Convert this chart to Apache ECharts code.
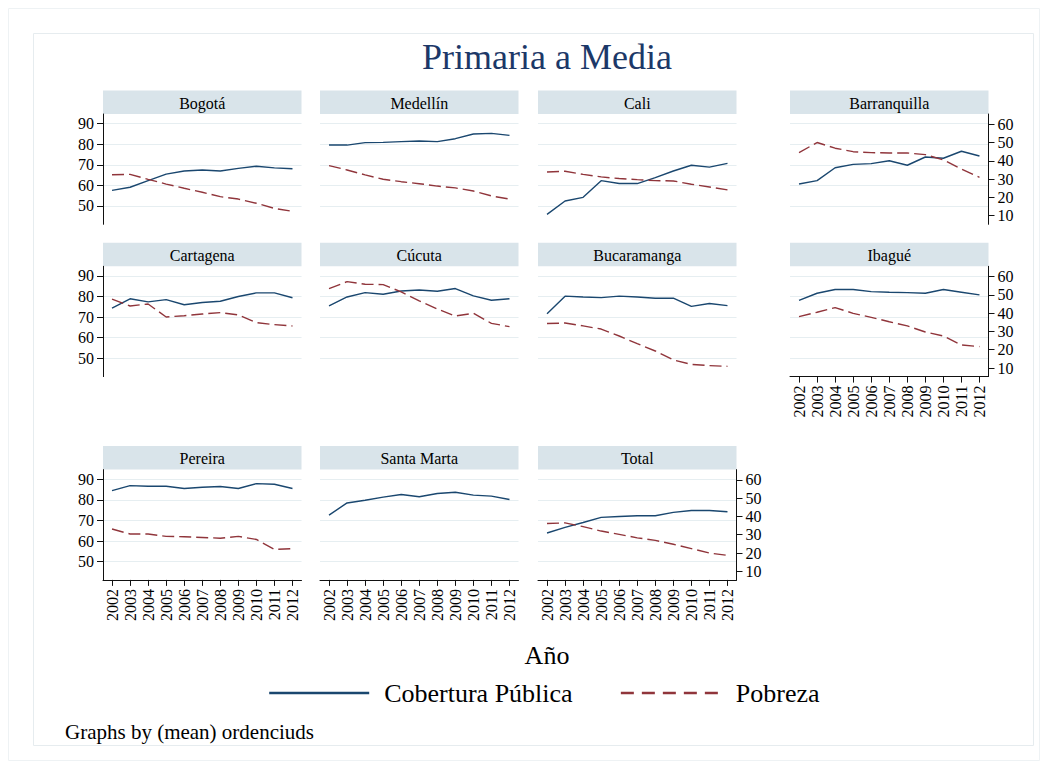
<!DOCTYPE html>
<html><head><meta charset="utf-8">
<script src="https://cdn.jsdelivr.net/npm/echarts@6/dist/echarts.min.js"></script>
<style>html,body{margin:0;padding:0;background:#fff}#c{width:1047px;height:767px}</style>
</head><body><div id="c"></div><script>
// ---- data ----
const years = ['2002','2003','2004','2005','2006','2007','2008','2009','2010','2011','2012'];
const cities = ['Bogotá','Medellín','Cali','Barranquilla','Cartagena','Cúcuta','Bucaramanga','Ibagué','Pereira','Santa Marta','Total'];
const leftTicks = [50,60,70,80,90];
const rightTicks = [10,20,30,40,50,60];

const coberturaBogota       = [57.6,59.1,62.3,65.5,67.0,67.5,67.0,68.3,69.3,68.5,68.1];
const pobrezaBogota         = [32.4,32.6,29.9,27.3,25.0,22.8,20.4,19.1,16.8,14.0,12.4];
const coberturaMedellin     = [79.6,79.6,80.8,80.9,81.3,81.6,81.3,82.7,85.0,85.3,84.3];
const pobrezaMedellin       = [37.4,35.0,32.3,29.9,28.6,27.5,26.2,25.2,23.5,20.8,19.1];
const coberturaCali         = [45.9,52.4,54.2,62.3,60.9,60.9,63.8,67.0,69.8,68.9,70.7];
const pobrezaCali           = [33.9,34.3,32.6,31.2,30.3,29.7,29.2,29.0,27.2,25.7,24.1];
const coberturaBarranquilla = [60.7,62.3,68.6,70.2,70.6,72.0,69.8,73.8,73.2,76.6,74.3];
const pobrezaBarranquilla   = [44.5,50.0,46.9,45.0,44.5,44.3,44.3,43.4,40.5,35.5,31.0];
const coberturaCartagena    = [74.4,78.9,77.4,78.5,76.0,77.1,77.7,80.0,81.8,81.8,79.4];
const pobrezaCartagena      = [47.7,43.9,45.0,37.9,38.6,39.5,40.3,39.0,34.8,33.7,33.0];
const coberturaCucuta       = [75.5,79.8,81.9,81.1,82.7,83.2,82.6,83.9,80.3,78.2,78.9];
const pobrezaCucuta         = [53.4,57.2,55.8,55.6,51.6,46.7,42.3,38.4,39.9,34.4,32.6];
const coberturaBucaramanga  = [71.6,80.2,79.8,79.5,80.2,79.8,79.2,79.2,75.2,76.6,75.6];
const pobrezaBucaramanga    = [34.3,34.6,33.0,31.3,27.5,23.3,19.3,14.4,12.0,11.3,10.9];
const coberturaIbague       = [78.1,81.6,83.4,83.4,82.4,82.1,81.9,81.6,83.4,82.1,80.8];
const pobrezaIbague         = [38.1,40.5,43.0,39.9,37.7,35.3,33.0,29.7,27.5,22.6,21.7];
const coberturaPereira      = [84.5,86.9,86.6,86.6,85.5,86.1,86.5,85.5,87.9,87.6,85.5];
const pobrezaPereira        = [33.1,30.4,30.4,29.1,28.9,28.5,28.1,29.1,27.4,22.0,22.4];
const coberturaSantaMarta   = [72.6,78.5,79.8,81.3,82.6,81.5,83.1,83.7,82.3,81.8,80.2];
const pobrezaSantaMarta     = null;
const coberturaTotal        = [63.9,66.6,69.0,71.5,71.9,72.3,72.3,73.9,74.8,74.8,74.2];
const pobrezaTotal          = [36.1,36.5,34.4,32.0,30.2,28.3,26.9,24.8,22.4,20.0,18.7];

const coberturaAll = [coberturaBogota,coberturaMedellin,coberturaCali,coberturaBarranquilla,coberturaCartagena,coberturaCucuta,coberturaBucaramanga,coberturaIbague,coberturaPereira,coberturaSantaMarta,coberturaTotal];
const pobrezaAll = [pobrezaBogota,pobrezaMedellin,pobrezaCali,pobrezaBarranquilla,pobrezaCartagena,pobrezaCucuta,pobrezaBucaramanga,pobrezaIbague,pobrezaPereira,pobrezaSantaMarta,pobrezaTotal];

// ---- layout ----
const FONT = '"Liberation Serif", "Times New Roman", serif';
const BLUE = '#1a476f', RED = '#90353b';
const colX = [103, 320, 538, 790];
const rowTop = [114, 266.3, 469.6];
const plotW = 198.5, plotH = 110.3, stripH = 23.5;
const LMIN = 41.1, LMAX = 94.7, RMIN = 5.3, RMAX = 65.6;

const grids = [], xAxes = [], yAxes = [], series = [], graphics = [];
const axisColor = '#111';
cities.forEach((name, i) => {
  const row = Math.floor(i / 4), col = i % 4;
  const left = colX[col], top = rowTop[row];
  grids.push({left: left, top: top, width: plotW, height: plotH, containLabel: false});
  const showLeft = col === 0;
  const showRight = col === 3 || i === 10;
  const showX = i >= 7;
  xAxes.push({
    gridIndex: i, type: 'category', data: years, boundaryGap: true,
    axisLine: {show: showX, onZero: false, lineStyle: {color: axisColor, width: 1}},
    axisTick: {show: showX, alignWithLabel: true, length: 6, lineStyle: {color: axisColor}},
    axisLabel: {show: showX, rotate: 90, interval: 0, fontFamily: FONT, fontSize: 16, color: '#000', margin: 9},
    splitLine: {show: false}
  });
  yAxes.push({
    gridIndex: i, type: 'value', position: 'left', min: LMIN, max: LMAX,
    axisLine: {show: showLeft, lineStyle: {color: axisColor, width: 1}},
    axisTick: {show: showLeft, customValues: leftTicks, length: 6, lineStyle: {color: axisColor}},
    axisLabel: {show: showLeft, customValues: leftTicks, fontFamily: FONT, fontSize: 16, color: '#000', margin: 9},
    splitLine: {show: true, lineStyle: {color: '#e6eef1', width: 1.2}}
  });
  yAxes.push({
    gridIndex: i, type: 'value', position: 'right', min: RMIN, max: RMAX,
    axisLine: {show: showRight, lineStyle: {color: axisColor, width: 1}},
    axisTick: {show: showRight, customValues: rightTicks, length: 6, lineStyle: {color: axisColor}},
    axisLabel: {show: showRight, customValues: rightTicks, fontFamily: FONT, fontSize: 16, color: '#000', margin: 9},
    splitLine: {show: false}
  });
  series.push({
    type: 'line', name: 'Cobertura Pública', xAxisIndex: i, yAxisIndex: 2 * i,
    data: coberturaAll[i], symbol: 'none', silent: true,
    lineStyle: {color: BLUE, width: 1.4}, itemStyle: {color: BLUE}
  });
  if (pobrezaAll[i]) {
    series.push({
      type: 'line', name: 'Pobreza', xAxisIndex: i, yAxisIndex: 2 * i + 1,
      data: pobrezaAll[i], symbol: 'none', silent: true,
      lineStyle: {color: RED, width: 1.4, type: [12, 5]}, itemStyle: {color: RED}
    });
  }
  graphics.push({type: 'rect', silent: true, shape: {x: left, y: top - stripH, width: plotW, height: stripH}, style: {fill: '#d9e4ea'}});
  graphics.push({type: 'text', silent: true, x: left + plotW / 2, y: top - stripH / 2 + 1,
    style: {text: name, fontFamily: FONT, fontSize: 16, fill: '#000', textAlign: 'center', textVerticalAlign: 'middle'}});
});

graphics.push({type: 'rect', silent: true, z: -10, shape: {x: 8.5, y: 8.5, width: 1031, height: 752}, style: {fill: 'none', stroke: '#eef2f4', lineWidth: 1}});
graphics.push({type: 'rect', silent: true, z: -10, shape: {x: 33.5, y: 33.5, width: 1000, height: 712}, style: {fill: 'none', stroke: '#e6ecef', lineWidth: 1}});
graphics.push({type: 'text', silent: true, x: 547, y: 57, style: {text: 'Primaria a Media', fontFamily: FONT, fontSize: 36, fill: '#1c3868', textAlign: 'center', textVerticalAlign: 'middle'}});
graphics.push({type: 'text', silent: true, x: 547, y: 655, style: {text: 'Año', fontFamily: FONT, fontSize: 26, fill: '#000', textAlign: 'center', textVerticalAlign: 'middle'}});
graphics.push({type: 'text', silent: true, x: 65, y: 732, style: {text: 'Graphs by (mean) ordenciuds', fontFamily: FONT, fontSize: 21, fill: '#000', textAlign: 'left', textVerticalAlign: 'middle'}});

const chart = echarts.init(document.getElementById('c'), null, {renderer: 'svg'});
chart.setOption({
  animation: false,
  backgroundColor: '#fff',
  grid: grids, xAxis: xAxes, yAxis: yAxes, series: series,
  legend: {
    left: 263, top: 675, itemWidth: 100, itemHeight: 14, itemGap: 47,
    data: ['Cobertura Pública', {name: 'Pobreza', lineStyle: {type: [13, 8]}}],
    itemStyle: {opacity: 0, borderWidth: 0},
    lineStyle: {width: 2.4},
    textStyle: {fontFamily: FONT, fontSize: 26, color: '#000', padding: [0, 0, 0, 10]}
  },
  graphic: graphics
});
</script></body></html>
